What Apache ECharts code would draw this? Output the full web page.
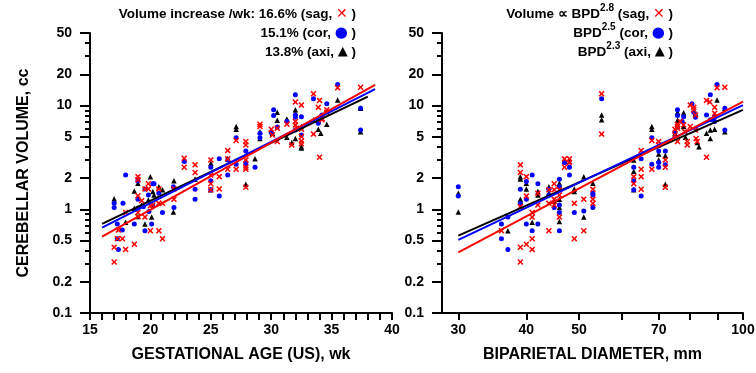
<!DOCTYPE html>
<html>
<head>
<meta charset="utf-8">
<script src="https://cdn.jsdelivr.net/npm/echarts@6/dist/echarts.min.js"></script>
<style>html,body{margin:0;padding:0;background:#fff}#c{width:756px;height:373px}</style>
</head>
<body>
<div id="c"></div>
<script>
// ---- Data ----
// Left panel: gestational age (wk) vs cerebellar volume (cc)
const gaSag = [[17,0.43],[17,0.31],[17.35,0.63],[17.26,0.52],[17.68,0.52],[17.95,0.93],[17.95,0.41],[18.67,0.46],[18.97,2.06],[18.97,1.92],[18.97,1.35],[18.97,0.93],[18.97,0.85],[19.28,1.21],[19.55,1.57],[19.55,0.84],[19.83,1.57],[19.83,1.76],[20.0,1.08],[20.0,0.62],[20.2,1.1],[20.7,1.57],[20.7,1.14],[20.7,0.62],[21.0,1.14],[21.0,0.52],[21.95,1.57],[21.95,1.25],[22.8,3.1],[22.8,2.54],[23.7,2.68],[23.7,2.26],[25,2.99],[25,2.14],[25,1.76],[25,1.54],[25.7,2.06],[25.7,1.57],[26.4,3.68],[26.4,3.06],[26.4,2.43],[27.1,4.6],[27.1,2.43],[27.9,4.5],[27.9,4.17],[27.9,2.99],[27.9,2.54],[27.9,2.43],[27.9,1.63],[29.07,6.6],[29.07,6.28],[30,5.9],[30.1,5.2],[30.5,6.04],[30.5,4.5],[31.3,6.6],[31.7,4.17],[32,10.8],[32,7.0],[32,6.5],[32.1,6.04],[32.5,10.1],[32.5,5.9],[32.5,5.0],[32.5,4.55],[32.5,4.27],[33.5,12.96],[33.5,5.3],[33.9,9.6],[34,11.2],[34,3.17],[34.2,7.5],[34.2,7.3],[34.6,9.1],[34.6,8.6],[35.5,14.8],[37.4,15.0]];
const gaCor = [[17,1.14],[17,1.04],[17.26,0.72],[17.26,0.52],[17.35,0.41],[17.73,1.14],[17.68,0.63],[17.95,2.14],[18.67,0.72],[18.97,1.88],[18.97,1.25],[18.97,1.02],[19.42,1.06],[19.55,1.57],[19.55,0.62],[19.83,1.37],[19.88,0.95],[20.1,0.72],[20.2,1.76],[20.3,1.76],[20.2,1.08],[20.7,1.43],[21.0,0.93],[21.9,1.65],[21.95,1.04],[22.8,2.88],[23.7,1.56],[23.7,1.25],[25,2.54],[25,1.88],[25,1.54],[25.7,3.06],[25.7,1.34],[26.4,2.99],[26.4,2.14],[27.1,4.9],[27.1,2.72],[27.9,3.65],[27.9,2.82],[27.9,2.68],[28.66,2.54],[29.07,5.4],[29.07,4.9],[30,5.5],[30.2,9.1],[30.2,8.0],[30.5,6.2],[31.3,7.0],[32,12.7],[32,8.1],[32,7.7],[32,5.8],[32.5,7.8],[32.5,5.2],[33.5,11.6],[33.9,6.75],[33.9,7.0],[34.2,8.1],[34.6,10.4],[35.5,15.9],[37.4,9.4],[37.4,5.8]];
const gaAxi = [[17,1.26],[17.95,0.75],[18.67,1.5],[18.67,1.02],[18.97,1.78],[18.97,0.85],[19.28,1.10],[19.55,0.72],[19.83,1.23],[20.0,2.06],[20.1,0.84],[20.2,1.48],[20.3,1.37],[20.7,1.65],[21.0,1.54],[21.95,1.88],[21.9,0.94],[22.8,2.99],[23.7,1.96],[25,2.78],[25,1.54],[26.4,3.06],[27.1,6.28],[27.1,5.9],[27.9,1.74],[28.66,3.06],[29.07,5.6],[29.07,4.8],[30.1,5.4],[30.5,8.6],[30.5,7.2],[31.3,7.4],[31.3,4.95],[31.7,4.4],[32,9.1],[32,8.4],[32,4.8],[32.5,6.28],[32.5,4.0],[32.5,3.9],[33.5,7.3],[33.9,5.9],[34.1,5.4],[34.6,6.6],[35.5,11.3],[37.4,9.4],[37.4,5.6]];
// Left panel regression lines (end points)
const gaFitSag = [[16,0.545],[38.6,15.8]];
const gaFitCor = [[16,0.665],[38.6,14.4]];
const gaFitAxi = [[16,0.722],[38,12.2]];

// Right panel: biparietal diameter (mm) vs cerebellar volume (cc)
const bpdSag = [[36,0.62],[39,2.68],[39,2.26],[39,1.06],[39,0.43],[39,0.31],[40,2.06],[40,1.34],[40,0.46],[41,0.93],[41,0.84],[41,0.52],[41,0.41],[42,1.43],[42,1.1],[44,1.54],[44,1.14],[44,0.62],[45,1.76],[45,1.54],[45,1.25],[45,1.1],[46,1.54],[46,1.37],[46,0.84],[47,3.06],[47,2.54],[48,3.06],[48,2.82],[49,1.14],[49,0.52],[51,1.25],[51,0.62],[53,1.56],[53,1.25],[53,1.14],[55,12.96],[55,5.3],[63,2.06],[63,1.76],[65,3.68],[65,2.43],[65,2.06],[65,1.56],[68,4.6],[68,2.43],[70,4.5],[70,4.17],[72,2.99],[72,2.54],[72,1.63],[75,5.9],[75,5.2],[75.8,6.6],[75.8,6.28],[75.8,6.04],[75.8,4.5],[76.7,7.0],[77.8,6.5],[78.2,5.6],[79,4.5],[79,4.17],[80,10.1],[80,6.28],[81.2,9.6],[81.2,9.1],[81.8,8.1],[81.8,5.8],[82,4.8],[82.4,4.5],[85.7,11.2],[85.7,3.17],[86.9,10.8],[88.7,9.6],[88.7,8.4],[89.6,14.8],[92.6,15.0]];
const bpdCor = [[30,1.65],[30,1.34],[36,0.72],[36,0.52],[37,0.41],[37,0.84],[39,1.56],[39,1.14],[40,1.85],[40,1.25],[40,0.72],[41,2.14],[41,0.62],[42,1.76],[42,0.72],[44,1.56],[44,1.37],[45,1.04],[46,1.95],[46,1.65],[46,1.1],[46,0.93],[46,0.62],[47,2.82],[48,2.54],[48,2.14],[49,0.93],[51,0.96],[53,1.43],[53,1.37],[53,1.04],[55,11.6],[63,2.54],[63,1.88],[63,1.54],[65,3.06],[65,1.34],[68,4.9],[68,2.72],[70,3.65],[70,2.82],[70,2.54],[72,3.65],[72,2.68],[75,5.5],[75.8,9.1],[75.8,8.0],[75.8,6.2],[77.3,7.0],[77.8,7.8],[80.6,10.4],[81.2,8.6],[81.8,7.7],[85.7,8.1],[87.1,12.7],[87.1,7.3],[88.7,7.8],[88.7,7.0],[89.6,15.9],[92.6,9.4],[92.6,5.8]];
const bpdAxi = [[30,1.43],[30,0.94],[37,0.62],[39,2.06],[39,1.96],[39,1.25],[40,1.78],[40,1.57],[41,0.75],[42,1.48],[42,1.37],[44,1.65],[44,1.43],[45,1.2],[46,1.78],[46,1.25],[46,1.04],[46,0.76],[47,2.88],[48,2.88],[49,1.57],[49,1.48],[51,2.06],[51,0.84],[53,1.78],[55,8.1],[55,7.3],[63,2.99],[63,2.32],[63,1.54],[68,6.28],[68,5.9],[70,3.4],[70,2.99],[72,3.3],[72,1.74],[75,5.4],[75.8,8.6],[75.8,7.2],[77.3,7.2],[77.8,8.5],[77.8,6.28],[78.4,4.95],[81.8,8.4],[82.4,4.4],[83,4.0],[85.7,5.4],[87.1,5.8],[87.1,4.8],[88.7,5.9],[89.6,11.3],[92.6,9.4],[92.6,5.6]];
const bpdFitSag = [[30,0.385],[100,10.9]];
const bpdFitCor = [[30,0.506],[100,10.1]];
const bpdFitAxi = [[30,0.556],[100,9.07]];

// Tick values
const yMajorTicks = [0.1,0.2,0.5,1,2,5,10,20,50];
const yMinorTicks = [0.3,0.4,0.6,0.7,0.8,0.9,3,4,6,7,8,9,30,40];
const bpdTicks = [30,40,50,60,70,80,90,100];
const bpdLabels = [30,40,50,70,100];
const gaRange = [15,40];
const bpdRange = [28,100];
const volRange = [0.1,50];

// ---- Chart ----
const L = Math.log10;
const FONT = '"Liberation Sans", Arial, Helvetica, sans-serif';
const black = '#000';
const AXW = 2;
const lg1 = p => [p[0], L(p[1])];
const lg2 = p => [L(p[0]), L(p[1])];
const nearestLabel = (arr, v) => String(arr.reduce((a, b) => Math.abs(L(b) - v) < Math.abs(L(a) - v) ? b : a));
const labelStyle = () => ({ color: black, fontFamily: FONT, fontWeight: 'bold', fontSize: 14 });
const nameStyle = () => ({ color: black, fontFamily: FONT, fontWeight: 'bold', fontSize: 16 });
const tickLine = () => ({ color: black, width: AXW });
const crossPath = 'path://M0,1.8L1.8,0L5,3.2L8.2,0L10,1.8L6.8,5L10,8.2L8.2,10L5,6.8L1.8,10L0,8.2L3.2,5Z';

function yAxes(gridIndex, withName) {
  return [
    {
      type: 'value', gridIndex, position: 'left', z: 10, min: L(volRange[0]), max: L(volRange[1]),
      name: withName ? 'CEREBELLAR VOLUME, cc' : '', nameLocation: 'middle', nameGap: 58, nameTextStyle: nameStyle(),
      axisLine: { show: true, lineStyle: tickLine() },
      axisTick: { show: true, length: 10, lineStyle: tickLine(), customValues: yMajorTicks.map(L) },
      axisLabel: Object.assign({ show: true, margin: 18, customValues: yMajorTicks.map(L), formatter: v => nearestLabel(yMajorTicks, v) }, labelStyle()),
      splitLine: { show: false }
    },
    {
      type: 'value', gridIndex, position: 'left', offset: 0, z: 10, min: L(volRange[0]), max: L(volRange[1]),
      axisLine: { show: false },
      axisTick: { show: true, length: 5, lineStyle: tickLine(), customValues: yMinorTicks.map(L) },
      axisLabel: { show: false },
      splitLine: { show: false }
    }
  ];
}

function scatter(data, xi, yi, kind) {
  const sty = {
    sag: { symbol: crossPath, symbolSize: 6, color: '#ff0000' },
    cor: { symbol: 'circle', symbolSize: 5, color: '#0000ff' },
    axi: { symbol: 'triangle', symbolSize: 5.5, color: '#000000' }
  }[kind];
  return { type: 'scatter', xAxisIndex: xi, yAxisIndex: yi, data, symbol: sty.symbol, symbolSize: sty.symbolSize,
    itemStyle: { color: sty.color, opacity: 1 }, silent: true };
}
function fitLine(data, xi, yi, color) {
  return { type: 'line', xAxisIndex: xi, yAxisIndex: yi, data, symbol: 'none', showSymbol: false,
    lineStyle: { color, width: 2 }, silent: true };
}

const sup = { fontSize: 10, fontFamily: FONT, fontWeight: 'bold', fill: black, verticalAlign: 'top', lineHeight: 10 };
const txt = { fontSize: 13.5, fontFamily: FONT, fontWeight: 'bold', fill: black, lineHeight: 22 };
const rich = {
  t: txt, s: sup,
  r: { fontSize: 14, fontFamily: '"DejaVu Sans", sans-serif', fill: '#ff0000', lineHeight: 22 },
  b: { fontSize: 15, fontFamily: '"DejaVu Sans", sans-serif', fill: '#0000ff', lineHeight: 22 },
  k: { fontSize: 13, fontFamily: '"DejaVu Sans", sans-serif', fill: black, lineHeight: 22 }
};
function legendText(x, y, text) {
  return { type: 'text', x, y, silent: true, style: { text, align: 'right', verticalAlign: 'middle', rich, fontSize: 13.5, fontFamily: FONT, fill: black } };
}

const chart = echarts.init(document.getElementById('c'), null, { renderer: 'canvas' });
chart.setOption({
  animation: false,
  grid: [
    { left: 90, top: 33, width: 302, height: 280, outerBoundsMode: 'none' },
    { left: 442, top: 33, width: 301, height: 280, outerBoundsMode: 'none' }
  ],
  xAxis: [
    {
      type: 'value', gridIndex: 0, z: 10, min: gaRange[0], max: gaRange[1], interval: 5,
      name: 'GESTATIONAL AGE (US), wk', nameLocation: 'middle', nameGap: 34, nameTextStyle: nameStyle(),
      axisLine: { show: true, onZero: false, lineStyle: tickLine() },
      axisTick: { show: true, length: 7, lineStyle: tickLine() },
      minorTick: { show: true, splitNumber: 5, length: 7, lineStyle: tickLine() },
      axisLabel: Object.assign({ margin: 10 }, labelStyle()),
      splitLine: { show: false }, minorSplitLine: { show: false }
    },
    {
      type: 'value', gridIndex: 1, z: 10, min: L(bpdRange[0]), max: L(bpdRange[1]),
      name: 'BIPARIETAL DIAMETER, mm', nameLocation: 'middle', nameGap: 34, nameTextStyle: nameStyle(),
      axisLine: { show: true, onZero: false, lineStyle: tickLine() },
      axisTick: { show: true, length: 7, lineStyle: tickLine(), customValues: bpdTicks.map(L) },
      axisLabel: Object.assign({ margin: 10, customValues: bpdLabels.map(L), formatter: v => nearestLabel(bpdLabels, v) }, labelStyle()),
      splitLine: { show: false }
    }
  ],
  yAxis: yAxes(0, true).concat(yAxes(1, false)),
  series: [
    scatter(gaAxi.map(lg1), 0, 0, 'axi'),
    scatter(gaCor.map(lg1), 0, 0, 'cor'),
    scatter(gaSag.map(lg1), 0, 0, 'sag'),
    fitLine(gaFitAxi.map(lg1), 0, 0, '#000000'),
    fitLine(gaFitCor.map(lg1), 0, 0, '#0000ff'),
    fitLine(gaFitSag.map(lg1), 0, 0, '#ff0000'),
    scatter(bpdAxi.map(lg2), 1, 2, 'axi'),
    scatter(bpdCor.map(lg2), 1, 2, 'cor'),
    scatter(bpdSag.map(lg2), 1, 2, 'sag'),
    fitLine(bpdFitAxi.map(lg2), 1, 2, '#000000'),
    fitLine(bpdFitCor.map(lg2), 1, 2, '#0000ff'),
    fitLine(bpdFitSag.map(lg2), 1, 2, '#ff0000')
  ],
  graphic: [
    legendText(356, 14, '{t|Volume increase /wk: 16.6% (sag, }{r|✕}{t| )}'),
    legendText(356, 33, '{t|15.1% (cor, }{b|●}{t| )}'),
    legendText(356, 52, '{t|13.8% (axi, }{k|▲}{t| )}'),
    legendText(673, 14, '{t|Volume ∝ BPD}{s|2.8}{t| (sag, }{r|✕}{t| )}'),
    legendText(673, 33, '{t|BPD}{s|2.5}{t| (cor, }{b|●}{t| )}'),
    legendText(673, 52, '{t|BPD}{s|2.3}{t| (axi, }{k|▲}{t| )}')
  ]
});
</script>
</body>
</html>
